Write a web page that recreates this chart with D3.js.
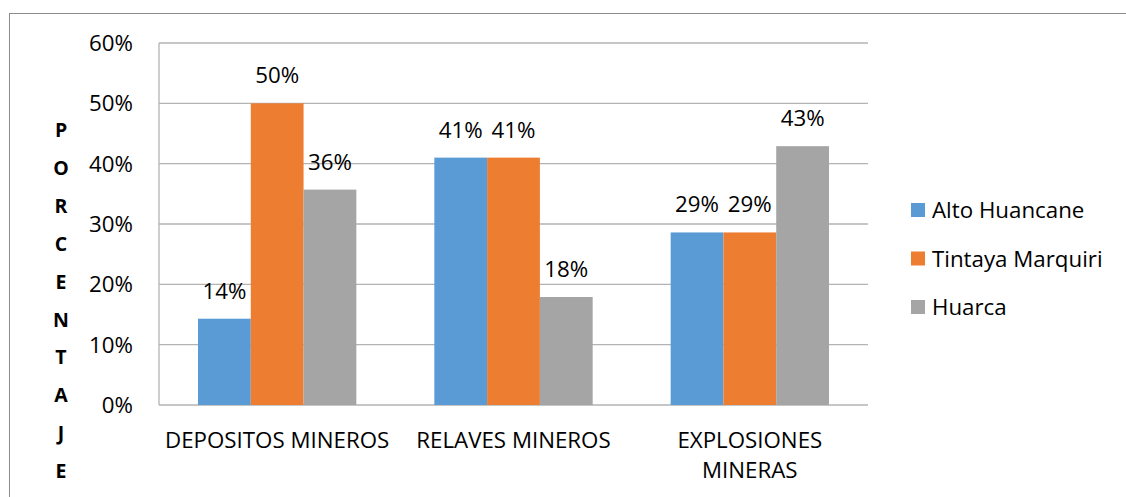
<!DOCTYPE html>
<html><head><meta charset="utf-8">
<script src="https://cdn.jsdelivr.net/npm/d3@7"></script>
<style>body{margin:0;background:#fff}svg{display:block}text{font-family:"Open Sans",sans-serif}</style>
</head><body><svg id="c" width="1126" height="497"></svg>
<script>
const categories = [["DEPOSITOS MINEROS"], ["RELAVES MINEROS"], ["EXPLOSIONES", "MINERAS"]];
const series = ["Alto Huancane", "Tintaya Marquiri", "Huarca"];
const altoHuancane = [14.3, 41, 28.6];
const tintayaMarquiri = [50, 41, 28.6];
const huarca = [35.7, 17.9, 42.9];
const yTicks = [0, 10, 20, 30, 40, 50, 60];
const colors = ["#5B9BD5", "#ED7D31", "#A5A5A5"];
const axisTitle = "PORCENTAJE";

const values = [altoHuancane, tintayaMarquiri, huarca];
const svg = d3.select("#c");
const L = 159, R = 868, T = 43, B = 405;
const FS = 22.3;

svg.append("rect").attr("x", 9.5).attr("y", 13.5).attr("width", 1130).attr("height", 500)
  .attr("fill", "none").attr("stroke", "#8c8c8c").attr("stroke-width", 1);

const x0 = d3.scaleBand().domain(d3.range(categories.length)).range([L, R]).paddingInner(0.33).paddingOuter(0.165);
const x1 = d3.scaleBand().domain(d3.range(series.length)).range([0, x0.bandwidth()]);
const y = d3.scaleLinear().domain([0, 60]).range([B, T]);

// gridlines
svg.append("g").selectAll("line").data(yTicks).join("line")
  .attr("x1", L).attr("x2", R).attr("y1", d => y(d)).attr("y2", d => y(d))
  .attr("stroke", "#b3b3b3").attr("stroke-width", 1.3);
svg.append("line").attr("x1", L).attr("x2", L).attr("y1", T).attr("y2", B)
  .attr("stroke", "#b3b3b3").attr("stroke-width", 1.3);

// y tick labels
svg.append("g").selectAll("text").data(yTicks).join("text")
  .attr("x", 133).attr("y", d => y(d)).attr("dy", "0.36em").attr("text-anchor", "end")
  .attr("font-size", FS).attr("fill", "#000").text(d => d + "%");

// bars
const g = svg.append("g");
categories.forEach((c, ci) => {
  series.forEach((s, si) => {
    const v = values[si][ci];
    const bx = x0(ci) + x1(si);
    g.append("rect").attr("x", bx).attr("width", x1.bandwidth())
      .attr("y", y(v)).attr("height", y(0) - y(v)).attr("fill", colors[si]);
    g.append("text").attr("x", bx + x1.bandwidth() / 2).attr("y", y(v) - 20)
      .attr("text-anchor", "middle").attr("font-size", FS).attr("fill", "#000")
      .text(Math.round(v) + "%");
  });
  const lab = svg.append("text").attr("text-anchor", "middle").attr("font-size", FS).attr("fill", "#000");
  c.forEach((line, li) => {
    lab.append("tspan").attr("x", x0(ci) + x0.bandwidth() / 2).attr("y", 448 + li * 30).text(line);
  });
});

// axis title vertical letters
svg.append("g").selectAll("text").data(axisTitle.split("")).join("text")
  .attr("x", 61).attr("y", (d, i) => 137 + i * 37.9).attr("text-anchor", "middle")
  .attr("font-size", 19.5).attr("font-weight", "bold").attr("fill", "#000").text(d => d);

// legend
const lg = svg.append("g");
series.forEach((s, i) => {
  const cy = 210 + i * 48.5;
  lg.append("rect").attr("x", 911).attr("y", cy - 7).attr("width", 14).attr("height", 14).attr("fill", colors[i]);
  lg.append("text").attr("x", 932).attr("y", cy).attr("dy", "0.36em").attr("font-size", FS).attr("fill", "#000").text(s);
});
</script></body></html>
